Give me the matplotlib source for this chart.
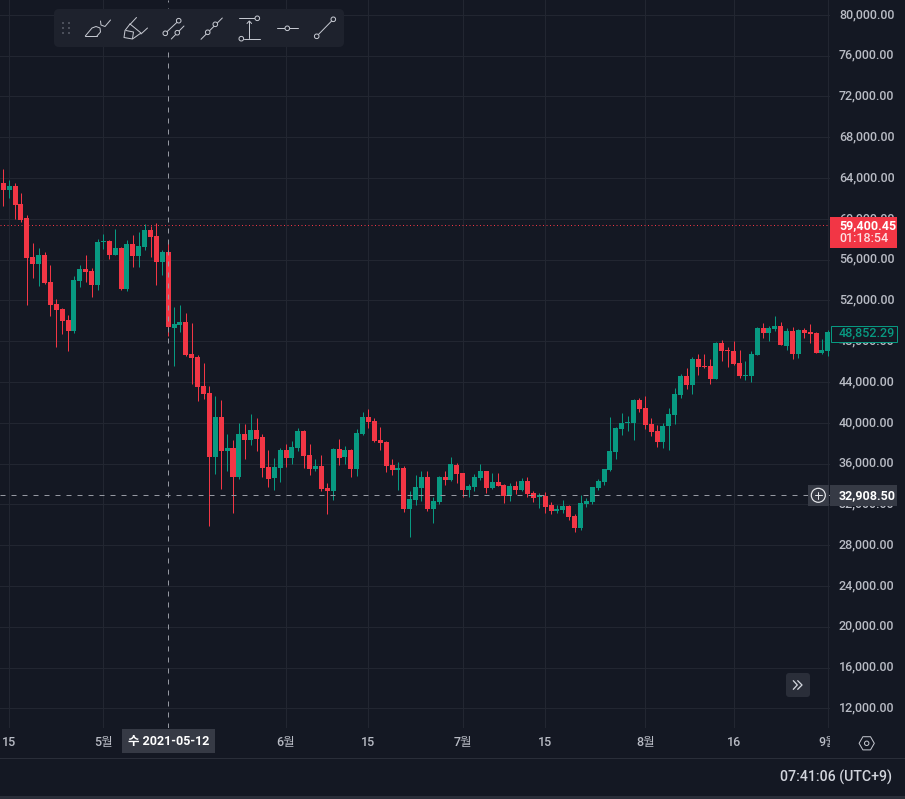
#!/usr/bin/env python3
"""Daily BTC candles in a dark trading-terminal layout."""

import matplotlib
matplotlib.use("Agg")
import matplotlib.dates as mdates
import matplotlib.pyplot as plt
import numpy as np
import pandas as pd
from matplotlib.patches import Circle, FancyBboxPatch, Rectangle, RegularPolygon
from matplotlib.transforms import Bbox, ScaledTranslation

plt.rcParams["font.family"] = ["Roboto", "Noto Sans CJK KR", "DejaVu Sans"]

FIRST_DAY = "2021-04-14"

opens = [63510, 62824, 63216, 61451, 60079, 56255, 55569, 56451, 53804, 51647,
         51157, 50078, 49000, 53902, 55079, 54883, 53510, 57726, 57824, 56451,
         57138, 53118, 57530, 56353, 57236, 58902, 58314, 55765, 56745, 49294,
         49589, 49882, 46745, 46451, 43608, 42921, 36647, 40568, 37235, 37529,
         34686, 38902, 38314, 39294, 38608, 35666, 34588, 35568, 37333, 36549,
         37529, 39196, 36843, 35470, 35764, 33607, 33313, 37431, 36647, 37333,
         35470, 38902, 40568, 40176, 38313, 38117, 35862, 35372, 35568, 31549,
         32431, 33608, 34686, 31549, 32235, 34686, 34392, 35862, 35078, 33411,
         33705, 34588, 35274, 33608, 34196, 33901, 32823, 33803, 33411, 34294,
         33117, 32725, 32823, 31941, 31353, 31450, 31843, 30862, 29686, 32039,
         32235, 33608, 34196, 35372, 37137, 39392, 39980, 39980, 42235, 41450,
         39882, 39196, 38117, 39686, 40764, 42725, 44588, 43705, 46255, 45568,
         45568, 44294, 47823, 47137, 47039, 45862, 44588, 44588, 46647, 49294,
         48804, 49196, 49490, 47529, 49000, 46745, 49098, 48902, 48804, 46843,
         47039]
highs = [64883, 63804, 63510, 62530, 60373, 57628, 57138, 56745, 55471, 52137,
         51255, 50569, 54392, 55471, 56451, 55177, 58020, 58510, 57922, 59000,
         57236, 57922, 58412, 58706, 59490, 59294, 59588, 56941, 57725, 51353,
         51549, 50765, 49784, 46647, 45863, 43608, 42627, 42235, 38902, 38314,
         39980, 39882, 40863, 40470, 38902, 37333, 36549, 37529, 37921, 38215,
         39490, 39294, 37921, 36451, 36843, 34098, 37529, 38411, 37725, 37431,
         39392, 41058, 41352, 40470, 39588, 38215, 36451, 36157, 35764, 33313,
         34882, 35274, 35274, 32725, 34784, 35274, 36647, 36058, 35078, 34000,
         34980, 35960, 35274, 35078, 35078, 34000, 34098, 34294, 34588, 34686,
         33313, 33117, 33215, 32235, 31941, 32431, 31941, 31058, 32921, 32627,
         33705, 34490, 35470, 40568, 39588, 40960, 40666, 42333, 42431, 42627,
         40470, 39784, 39980, 41451, 43411, 44784, 45372, 46451, 46745, 46745,
         46255, 47921, 48118, 47431, 48019, 47137, 46059, 47039, 49392, 49784,
         49490, 50470, 49882, 49294, 49392, 49196, 49294, 49686, 48902, 48215,
         49098]
lows = [61255, 62040, 59981, 59686, 51549, 54196, 53412, 53608, 50471, 47432,
        48706, 47039, 48804, 53314, 53804, 52333, 53020, 57040, 56059, 56451,
        53020, 52922, 55275, 55275, 56941, 56255, 53510, 54490, 48510, 45569,
        48902, 46549, 43804, 42137, 42333, 29882, 34980, 33510, 35274, 31157,
        34490, 36451, 37823, 37235, 34686, 33706, 33412, 34196, 35666, 35960,
        37235, 35568, 34882, 35274, 33313, 31058, 32431, 35862, 35960, 34686,
        34784, 38803, 39490, 38117, 37333, 35176, 34882, 33411, 31254, 28803,
        31941, 32333, 31353, 30176, 32039, 33902, 34294, 34098, 32725, 32725,
        33313, 34392, 33117, 33509, 33803, 32137, 32333, 33019, 33313, 32725,
        32235, 31646, 31156, 31058, 31156, 31156, 30470, 29294, 29490, 31745,
        32039, 33411, 33901, 35274, 36451, 38804, 39196, 38313, 41058, 39392,
        38706, 37627, 37529, 37333, 39882, 42431, 43313, 42823, 44686, 45372,
        43804, 44294, 46059, 45470, 45666, 44392, 44196, 44000, 46647, 48313,
        48019, 49000, 47627, 47137, 46255, 46353, 48313, 47823, 46843, 46745,
        46549]
closes = [62824, 63216, 61353, 59883, 56157, 55569, 56451, 53706, 51549, 51059,
          49980, 49000, 54000, 55079, 54785, 53510, 57726, 57824, 56451, 57138,
          53118, 57530, 56353, 57333, 58902, 58216, 55765, 56745, 49392, 49686,
          49882, 46647, 46353, 43510, 42823, 36647, 40568, 37235, 37529, 34686,
          38902, 38314, 39294, 38412, 35568, 34490, 35666, 37333, 36549, 37627,
          39196, 36745, 35470, 35764, 33509, 33313, 37431, 36549, 37333, 35470,
          38999, 40568, 40078, 38215, 38019, 35764, 35372, 35568, 31549, 32529,
          33705, 34686, 31549, 32333, 34686, 34392, 35960, 34980, 33411, 33803,
          34686, 35274, 33608, 34196, 33803, 32823, 33803, 33411, 34294, 33019,
          32627, 32921, 31745, 31353, 31549, 31843, 30764, 29686, 32137, 32333,
          33705, 34294, 35470, 37235, 39490, 39980, 40078, 42235, 41353, 39784,
          39098, 38117, 39686, 40862, 42823, 44588, 43705, 46255, 45470, 45470,
          44294, 47823, 47039, 47039, 45764, 44588, 44686, 46745, 49294, 48804,
          49294, 49490, 47627, 49000, 46745, 49098, 48804, 48706, 46843, 47137,
          48852]

price_ticks = [12000, 16000, 20000, 24000, 28000, 32000, 36000, 40000, 44000, 48000,
               52000, 56000, 60000, 64000, 68000, 72000, 76000, 80000]
date_ticks = ["2021-04-15", "2021-05-01", "2021-06-01", "2021-06-15", "2021-07-01",
              "2021-07-15", "2021-08-01", "2021-08-16", "2021-09-01"]
date_labels = ["15", "5월", "6월", "15", "7월", "15", "8월", "16", "9월"]

last_price = 59400.45
last_countdown = "01:18:54"
pair_price = 48852.29
cross_price = 32908.50
cross_date = "2021-05-12"
cross_date_label = "수 2021-05-12"
clock_label = "07:41:06 (UTC+9)"

BG = "#141823"
GRID = "#222631"
RED = "#f23645"
GREEN = "#089981"
AXIS_TEXT = "#b8bbc4"
CROSS = "#9598a1"
PANEL = "#1e222d"
LABEL_BOX = "#363a45"
ICON = "#c4c7cf"

W, H = 905, 799
PLOT_W, PLOT_H = 830, 728
PX_PT = 72 / 100
LABEL_PT = 9.0


def line(ov, pts, color=ICON, lw=1.0):
    xs, ys = zip(*pts)
    ov.plot(xs, ys, color=color, lw=lw * PX_PT, solid_capstyle="round", zorder=6)


def ring(ov, x, y, r=2.3):
    ov.add_patch(Circle((x, y), r, fc=PANEL, ec=ICON, lw=PX_PT, zorder=7))


def draw_candles(ax):
    days = pd.date_range(FIRST_DAY, periods=len(closes), freq="D")
    x = mdates.date2num(days)
    o, h, l, c = map(np.array, (opens, highs, lows, closes))
    up = c >= o
    colors = np.where(up, GREEN, RED)
    wicks = ax.vlines(x, l, h, colors=colors, lw=PX_PT, zorder=3)
    wicks.set_snap(True)
    ax.bar(x, np.abs(c - o), bottom=np.minimum(o, c), width=0.85, color=colors,
           linewidth=0, zorder=4)

    x0 = mdates.date2num(pd.Timestamp(FIRST_DAY))
    ax.set_xlim(x0 - 0.56, x0 + 140.36)
    ax.set_ylim(10068, 81454)


def style_axes(ax):
    ax.set_facecolor(BG)
    for side in ax.spines.values():
        side.set_visible(False)
    ax.grid(True, color=GRID, lw=PX_PT)
    ax.set_axisbelow(True)

    ax.yaxis.tick_right()
    ax.set_yticks(price_ticks)
    ax.set_yticklabels([f"{p:,.2f}" for p in price_ticks])
    ax.tick_params(axis="y", length=0, pad=6.4, labelsize=LABEL_PT, labelcolor=AXIS_TEXT)
    lift = ScaledTranslation(0, 1.3 / 72, ax.figure.dpi_scale_trans)
    for lab in ax.get_yticklabels():
        lab.set_transform(lab.get_transform() + lift)
        lab.set_fontweight(500)

    ax.set_xticks(mdates.date2num(pd.to_datetime(date_ticks)))
    ax.set_xticklabels(date_labels)
    ax.tick_params(axis="x", length=0, pad=5.9, labelsize=LABEL_PT, labelcolor=AXIS_TEXT)
    # the last month label runs under the price scale
    for lab in ax.get_xticklabels():
        lab.set_fontweight(500)
        lab.set_clip_box(Bbox([[0, 0], [PLOT_W, H]]))
        lab.set_clip_on(True)


def draw_crosshair(ax):
    dash = (0, (5, 6))
    ax.axhline(last_price, color=RED, lw=PX_PT, ls=(0, (1, 2.5)), zorder=5)
    ax.axvline(mdates.date2num(pd.Timestamp(cross_date)), color=CROSS, lw=PX_PT, ls=dash, zorder=5)
    ax.axhline(cross_price, color=CROSS, lw=PX_PT, ls=dash, zorder=5)


def draw_toolbar(ov):
    ov.add_patch(FancyBboxPatch((58, 13), 282, 30, boxstyle="round,pad=4,rounding_size=5",
                                fc=PANEL, ec="none", zorder=5))
    for gx in (63.3, 68.7):
        for gy in (23, 28, 33):
            ov.add_patch(Rectangle((gx - 1, gy - 1), 2, 2, fc="#4b4f5a", ec="none", zorder=6))
    # brush
    line(ov, [(85.3, 36), (97, 36)])
    line(ov, [(85.3, 36), (92, 28), (96, 26.5), (100, 28), (100.5, 32), (97, 36)])
    line(ov, [(100.5, 21), (101, 25), (105, 26.5), (110.5, 20)])
    # highlighter
    line(ov, [(130, 24.5), (136.5, 17.5)])
    line(ov, [(130, 24), (125, 30.5), (124, 37.5), (132.5, 39), (141, 33), (130, 24)])
    line(ov, [(126, 30.5), (133.5, 32), (132.5, 38.5)])
    line(ov, [(141, 34), (147.5, 28)])
    # trend channel
    line(ov, [(165.3, 33.3), (178.7, 20.7)])
    ring(ov, 165.3, 33.3)
    ring(ov, 178.7, 20.7)
    line(ov, [(171.3, 39), (184, 26)])
    ring(ov, 177.3, 32.7)
    # ray
    line(ov, [(201, 39.3), (222.3, 18)])
    ring(ov, 207.7, 32.3)
    ring(ov, 215.3, 24.3)
    # measure
    line(ov, [(239, 18.3), (255, 18.3)])
    ring(ov, 257.3, 18.3)
    line(ov, [(244, 38.7), (260, 38.7)])
    ring(ov, 241.3, 38.7)
    line(ov, [(249.3, 37.5), (249.3, 21)])
    line(ov, [(247, 23.5), (249.3, 21), (251.6, 23.5)])
    # horizontal line
    line(ov, [(277, 28.3), (298, 28.3)])
    ring(ov, 287.3, 28.3)
    # segment
    line(ov, [(316.7, 36.3), (333.3, 19.3)])
    ring(ov, 316.7, 36.3)
    ring(ov, 333.3, 19.3)


def draw_price_labels(ov):
    ov.add_patch(Rectangle((830, 217), 67, 31, fc=RED, ec="none", zorder=5))
    ov.text(839, 225.3, f"{last_price:,.2f}", color="white", fontsize=LABEL_PT, fontweight="bold",
            va="center", ha="left", zorder=6)
    ov.text(839, 238.5, last_countdown, color="#fde0e3", fontsize=LABEL_PT, fontweight=500,
            va="center", ha="left", zorder=6)

    ov.add_patch(Rectangle((830.5, 325.5), 66.5, 16, fc=BG, ec=GREEN, lw=PX_PT, zorder=5))
    ov.text(839, 333.3, f"{pair_price:,.2f}", color=GREEN, fontsize=LABEL_PT, fontweight=500,
            va="center", ha="left", zorder=6)

    ov.add_patch(Rectangle((830, 485), 67, 20.7, fc=LABEL_BOX, ec="none", zorder=5))
    ov.text(839, 495.3, f"{cross_price:,.2f}", color="white", fontsize=LABEL_PT, fontweight="bold",
            va="center", ha="left", zorder=6)
    ov.add_patch(Rectangle((808, 485), 21, 20.7, fc=LABEL_BOX, ec="none", zorder=5))
    ov.add_patch(Circle((818.3, 495.3), 7, fc="none", ec="#e6e7eb", lw=PX_PT * 1.2, zorder=6))
    line(ov, [(814.5, 495.3), (822.1, 495.3)], color="#e6e7eb")
    line(ov, [(818.3, 491.5), (818.3, 499.1)], color="#e6e7eb")


def draw_bottom(ov):
    ov.add_patch(Rectangle((122, 729), 93, 23.7, fc=LABEL_BOX, ec="none", zorder=5))
    ov.text(168.5, 742, cross_date_label, color="white", fontsize=LABEL_PT, fontweight="bold",
            va="center", ha="center", zorder=6)

    ov.add_patch(RegularPolygon((866.7, 743.3), 6, radius=7.6, orientation=np.pi / 2,
                                fc="none", ec="#c4c7cf", lw=PX_PT, zorder=6))
    ov.add_patch(Circle((866.7, 743.3), 2.2, fc="none", ec="#c4c7cf", lw=PX_PT, zorder=6))

    ov.add_patch(FancyBboxPatch((788, 675), 20, 20, boxstyle="round,pad=2,rounding_size=3",
                                fc="#2a2e39", ec="none", zorder=5))
    line(ov, [(793.3, 680.7), (797.3, 685), (793.3, 689.3)], color="#d1d4dc", lw=1.3)
    line(ov, [(797.7, 680.7), (802, 685), (797.7, 689.3)], color="#d1d4dc", lw=1.3)

    ov.plot([0, W], [757.5, 757.5], color="#2a2e39", lw=PX_PT, zorder=5)
    ov.add_patch(Rectangle((0, 796), W, 3, fc="#2a2e39", ec="none", zorder=5))
    ov.text(892, 777, clock_label, color="#d1d4dc", fontsize=10.2, fontweight=500,
            va="center", ha="right", zorder=6)


def main():
    fig = plt.figure(figsize=(W / 100, H / 100), dpi=100, facecolor=BG)
    ax = fig.add_axes([0, 1 - PLOT_H / H, PLOT_W / W, PLOT_H / H])
    draw_candles(ax)
    style_axes(ax)
    draw_crosshair(ax)

    # chrome is laid out in screen pixels on a see-through top layer
    ov = fig.add_axes([0, 0, 1, 1])
    ov.set_xlim(0, W)
    ov.set_ylim(H, 0)
    ov.axis("off")
    draw_toolbar(ov)
    draw_price_labels(ov)
    draw_bottom(ov)

    fig.savefig("out.png", dpi=100, facecolor=BG)
    plt.close(fig)


if __name__ == "__main__":
    main()
